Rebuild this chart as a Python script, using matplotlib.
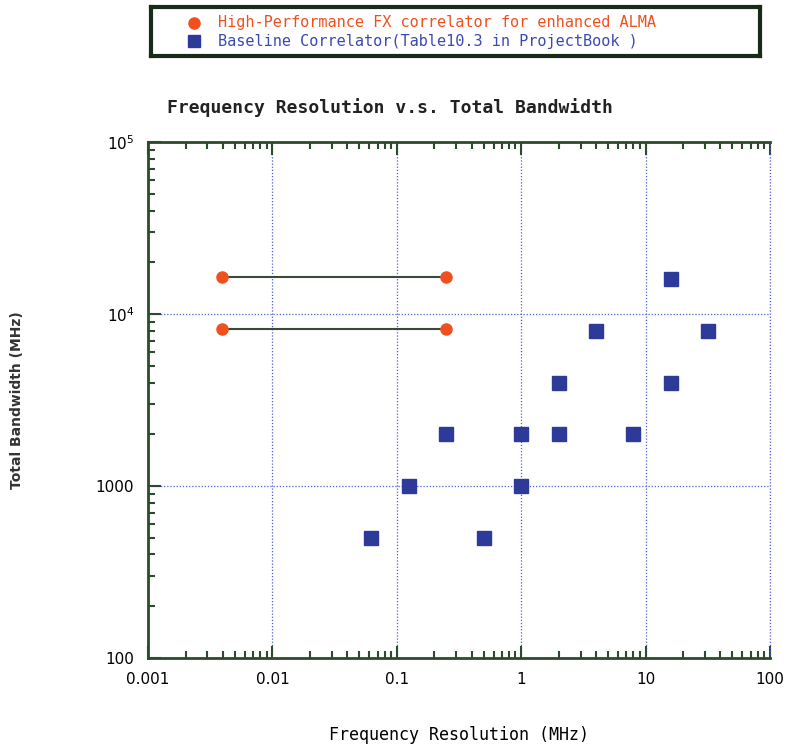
import numpy as np
import matplotlib.pyplot as plt
from matplotlib.ticker import LogLocator, NullFormatter, FixedLocator

# High-performance FX correlator (two bandwidth modes, line between)
fx_res = [0.0039, 0.25]
fx_bw_hi = [16384, 16384]
fx_bw_lo = [8192, 8192]

# Baseline correlator (Table 10.3 in Project Book)
base_res = [0.0625, 0.125, 0.25, 0.5, 1, 1, 2, 2, 4, 8, 16, 16, 32]
base_bw = [500, 1000, 2000, 500, 1000, 2000, 2000, 4000, 8000, 2000, 16000, 4000, 8000]

x_ticks = [0.001, 0.01, 0.1, 1, 10, 100]
x_labels = ['0.001', '0.01', '0.1', '1', '10', '100']
y_ticks = [100, 1000, 1e4, 1e5]
y_labels = ['100', '1000', r'10$^4$', r'10$^5$']

axcol = '#2d4a2d'
gridcol = '#4a5fd0'
red = '#f0501e'
blue = '#2e3a9a'

fig = plt.figure(figsize=(7.88, 7.45), dpi=100)
ax = fig.add_axes([0.188, 0.117, 0.789, 0.692])

ax.plot(fx_res, fx_bw_hi, '-', color='#3a4a3a', lw=1.5, zorder=2)
ax.plot(fx_res, fx_bw_lo, '-', color='#3a4a3a', lw=1.5, zorder=2)
ax.plot(fx_res + fx_res, fx_bw_hi + fx_bw_lo, 'o', color=red, ms=8, zorder=3, ls='none')
ax.plot(base_res, base_bw, 's', color=blue, ms=10, zorder=3, ls='none')

ax.set_xscale('log')
ax.set_yscale('log')
ax.set_xlim(0.001, 100)
ax.set_ylim(100, 1e5)

ax.xaxis.set_major_locator(FixedLocator(x_ticks))
ax.set_xticklabels(x_labels, fontsize=11)
ax.yaxis.set_major_locator(FixedLocator(y_ticks))
ax.set_yticklabels(y_labels, fontsize=11)
ax.xaxis.set_minor_locator(LogLocator(base=10, subs=np.arange(2, 10)))
ax.yaxis.set_minor_locator(LogLocator(base=10, subs=np.arange(2, 10)))
ax.xaxis.set_minor_formatter(NullFormatter())
ax.yaxis.set_minor_formatter(NullFormatter())

ax.tick_params(which='both', direction='in', color=axcol, top=True, right=False, width=1.5)
ax.tick_params(which='major', length=9, pad=10)
ax.tick_params(which='minor', length=5)

for s in ['left', 'bottom', 'top']:
    ax.spines[s].set_color(axcol)
    ax.spines[s].set_linewidth(2)
ax.spines['right'].set_visible(False)

ax.grid(True, which='major', color=gridcol, ls=(0, (1, 1.5)), lw=0.9)
ax.axvline(100, color=gridcol, ls=(0, (1, 1.5)), lw=0.9, clip_on=False)

ax.set_xlabel('Frequency Resolution (MHz)', family='DejaVu Sans Mono', fontsize=12, labelpad=28)
ax.set_ylabel('Total Bandwidth (MHz)', fontsize=10, fontweight='bold', color='#333333', labelpad=52)
fig.text(0.495, 0.856, 'Frequency Resolution v.s. Total Bandwidth', ha='center', va='center',
         family='DejaVu Sans Mono', fontweight='bold', fontsize=13, color='#222222')

# legend box
lax = fig.add_axes([0.192, 0.925, 0.772, 0.065])
lax.set_xlim(0, 1)
lax.set_ylim(0, 1)
lax.set_xticks([])
lax.set_yticks([])
for s in lax.spines.values():
    s.set_linewidth(3)
    s.set_color('#1a2a1a')
lax.plot([0.07], [0.68], 'o', color=red, ms=8)
lax.plot([0.07], [0.3], 's', color=blue, ms=8)
lax.text(0.11, 0.68, 'High-Performance FX correlator for enhanced ALMA', color=red,
         family='DejaVu Sans Mono', fontsize=11, va='center')
lax.text(0.11, 0.3, 'Baseline Correlator(Table10.3 in ProjectBook )', color='#3a4ab0',
         family='DejaVu Sans Mono', fontsize=11, va='center')

fig.savefig('out.png')
